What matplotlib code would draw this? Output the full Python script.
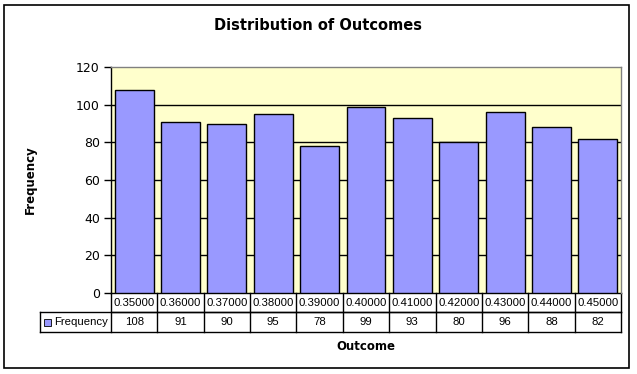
import matplotlib.pyplot as plt
from matplotlib.patches import Rectangle
import matplotlib.transforms as mtransforms

outcomes = ['0.35000', '0.36000', '0.37000', '0.38000', '0.39000', '0.40000',
            '0.41000', '0.42000', '0.43000', '0.44000', '0.45000']
frequency = [108, 91, 90, 95, 78, 99, 93, 80, 96, 88, 82]
series_name = 'Frequency'

W, H = 637, 374
fig = plt.figure(figsize=(W / 100, H / 100), dpi=100)

# outer chart border
fig.patches.append(Rectangle((4 / W, 1 - 368 / H), 625 / W, 363 / H,
                             transform=fig.transFigure, fill=False,
                             edgecolor='black', linewidth=1.2))

# plot area in pixels: left 111, right 621, top 67, bottom 293
px_l, px_r, px_t, px_b = 111, 621, 67, 293
ax = fig.add_axes([px_l / W, 1 - px_b / H, (px_r - px_l) / W, (px_b - px_t) / H])
ax.set_facecolor('#ffffcc')

x = list(range(len(frequency)))
ax.bar(x, frequency, width=0.84, color='#9999ff', edgecolor='black',
       linewidth=1.0, zorder=3)
ax.set_xlim(-0.5, len(frequency) - 0.5)
ax.set_ylim(0, 120)
ax.set_yticks(range(0, 121, 20))
for yv in range(20, 120, 20):
    ax.axhline(yv, color='black', linewidth=1.0, zorder=1)

ax.set_xticks([])
ax.tick_params(axis='y', direction='out', length=5, width=1, labelsize=9,
               pad=3, color='black')
for lbl in ax.get_yticklabels():
    lbl.set_family('DejaVu Sans')
ax.spines['left'].set_color('black')
ax.spines['left'].set_linewidth(1.0)
ax.spines['bottom'].set_visible(False)
for s in ('top', 'right'):
    ax.spines[s].set_color('#808080')
    ax.spines[s].set_linewidth(1.0)

# data table below the plot
row1 = -19 / (px_b - px_t)
row2 = -39 / (px_b - px_t)
lab_l = (40 - px_l) / (px_r - px_l)
trans = mtransforms.blended_transform_factory(ax.transData, ax.transAxes)
lw = 1.0
kw = dict(color='black', linewidth=lw, clip_on=False, solid_capstyle='projecting')
ax.plot([-0.5, len(frequency) - 0.5], [0, 0], transform=trans, **kw)
ax.plot([-0.5, len(frequency) - 0.5], [row1, row1], transform=trans, **kw)
ax.plot([lab_l, 1], [row1, row1], transform=ax.transAxes, **kw)
ax.plot([lab_l, 1], [row2, row2], transform=ax.transAxes, **kw)
ax.plot([lab_l, lab_l], [row1, row2], transform=ax.transAxes, **kw)
for i in range(len(frequency) + 1):
    ax.plot([i - 0.5, i - 0.5], [0, row2], transform=trans, **kw)

for i, (cat, val) in enumerate(zip(outcomes, frequency)):
    ax.text(i, row1 / 2, cat, transform=trans, ha='center', va='center',
            fontsize=8.2, family='Liberation Sans')
    ax.text(i, (row1 + row2) / 2, str(val), transform=trans, ha='center',
            va='center', fontsize=8.2, family='Liberation Sans')

# legend key inside the row label cell
ax.add_patch(Rectangle((lab_l + 4 / 510, (row1 + row2) / 2 - 3.5 / 226), 7 / 510, 7 / 226,
                       transform=ax.transAxes, facecolor='#9999ff',
                       edgecolor='black', linewidth=0.6, clip_on=False))
ax.text(lab_l + 14 / 510, (row1 + row2) / 2, series_name, transform=ax.transAxes,
        ha='left', va='center', fontsize=8.2, family='Liberation Sans')

fig.text(318 / W, 1 - 26 / H, 'Distribution of Outcomes', ha='center', va='center',
         fontsize=10.5, fontweight='bold', family='DejaVu Sans')
fig.text(366 / W, 1 - 346 / H, 'Outcome', ha='center', va='center',
         fontsize=8.5, fontweight='bold', family='DejaVu Sans')
fig.text(30 / W, 1 - 180 / H, 'Frequency', ha='center', va='center', rotation=90,
         fontsize=8.5, fontweight='bold', family='DejaVu Sans')

fig.savefig('out.png', dpi=100)
